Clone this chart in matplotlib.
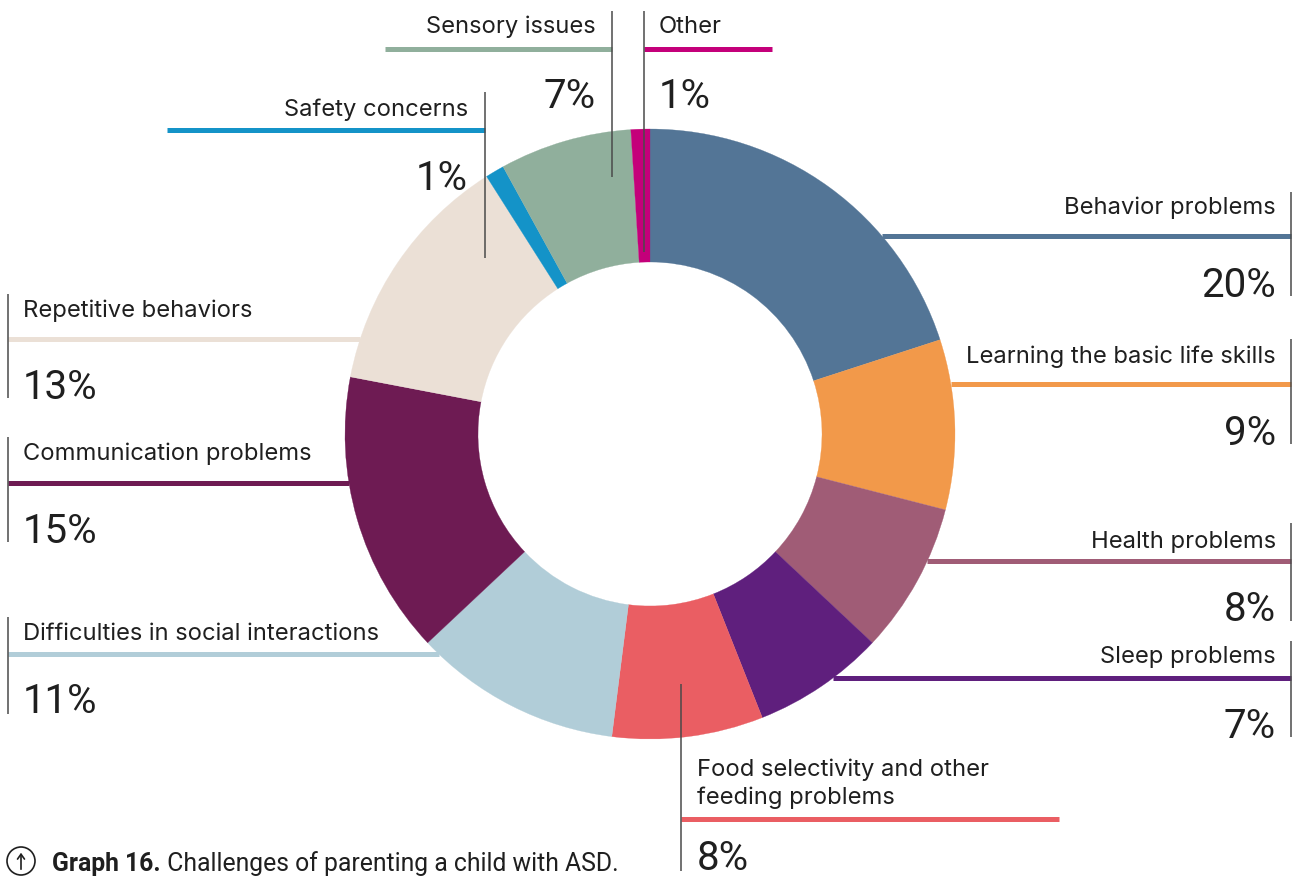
import matplotlib
matplotlib.use("Agg")
import matplotlib.pyplot as plt
from matplotlib.patches import Circle
import numpy as np

# ---------------- data ----------------
categories = [
    "Behavior problems",
    "Learning the basic life skills",
    "Health problems",
    "Sleep problems",
    "Food selectivity and other\nfeeding problems",
    "Difficulties in social interactions",
    "Communication problems",
    "Repetitive behaviors",
    "Safety concerns",
    "Sensory issues",
    "Other",
]
values = [20, 9, 8, 7, 8, 11, 15, 13, 1, 7, 1]
colors = [
    "#537596", "#F2994A", "#A05C76", "#5F1F7D", "#EA5E63",
    "#B1CDD8", "#6E1B53", "#EBE0D6", "#1493C8", "#90AF9C", "#C4007A",
]
caption_bold = "Graph 16."
caption_text = " Challenges of parenting a child with ASD."

# ---------------- layout (pixels) ----------------
W_PX, H_PX = 1298, 878
CX, CY, R, RING = 650, 435, 305, 133

layout = {
    "Behavior problems": dict(ha="right", tx=1276, tb=[214], ly=237, lx=None, vx=1291, vy=(193, 297), px=1276, pb=297),
    "Learning the basic life skills": dict(ha="right", tx=1276, tb=[363], ly=385, lx=None, vx=1291, vy=(340, 445), px=1276, pb=445),
    "Health problems": dict(ha="right", tx=1276, tb=[548], ly=562, lx=None, vx=1291, vy=(524, 622), px=1276, pb=621),
    "Sleep problems": dict(ha="right", tx=1276, tb=[663], ly=679, lx=None, vx=1291, vy=(642, 738), px=1276, pb=738),
    "Food selectivity and other\nfeeding problems": dict(ha="left", tx=697, tb=[776, 804], ly=820, lx=1059, vx=681, vy=(685, 872), px=697, pb=870),
    "Difficulties in social interactions": dict(ha="left", tx=23, tb=[640], ly=655, lx=None, vx=8, vy=(618, 715), px=23, pb=713),
    "Communication problems": dict(ha="left", tx=23, tb=[460], ly=484, lx=None, vx=8, vy=(438, 543), px=23, pb=543),
    "Repetitive behaviors": dict(ha="left", tx=23, tb=[317], ly=340, lx=None, vx=8, vy=(295, 399), px=23, pb=399),
    "Safety concerns": dict(ha="right", tx=468, tb=[116], ly=131, lx=167, vx=485, vy=(93, 259), px=468, pb=190),
    "Sensory issues": dict(ha="right", tx=596, tb=[33], ly=50, lx=385, vx=612, vy=(12, 178), px=596, pb=108),
    "Other": dict(ha="left", tx=659, tb=[33], ly=50, lx=772, vx=644, vy=(12, 253), px=659, pb=108),
}

LABEL_FONT = "Inter"
PCT_FONT = "Roboto"
TXT_COL = "#1f1f1f"
VLINE_COL = "#4a4a4a"

fig = plt.figure(figsize=(W_PX / 100, H_PX / 100), dpi=100)
ax = fig.add_axes([0, 0, 1, 1])

ax.pie(values, colors=colors, center=(CX, CY), radius=R, startangle=-90,
       counterclock=True, wedgeprops=dict(width=RING, linewidth=0.3, edgecolor="white"),
       frame=False)
for w, c in zip(ax.patches, colors):
    w.set_edgecolor(c)
    w.set_linewidth(0.2)
    w.set_zorder(2)

ax.set_xlim(0, W_PX)
ax.set_ylim(H_PX, 0)
ax.set_aspect("equal")
ax.axis("off")

for cat, val, col in zip(categories, values, colors):
    L = layout[cat]
    if L["lx"] is None:
        dy = abs(L["ly"] - CY)
        dx = np.sqrt(max(R ** 2 - dy ** 2, 0))
        edge = CX + dx if L["ha"] == "right" else CX - dx
        x0, x1 = edge, L["vx"]
    else:
        x0, x1 = L["vx"], L["lx"]
    ax.plot([x0, x1], [L["ly"], L["ly"]], color=col, lw=3.6, solid_capstyle="butt", zorder=1)
    ax.plot([L["vx"], L["vx"]], list(L["vy"]), color=VLINE_COL, lw=1.1, solid_capstyle="butt", zorder=4)
    for line, base in zip(cat.split("\n"), L["tb"]):
        ax.text(L["tx"], base, line, ha=L["ha"], va="baseline", fontsize=17.1,
                family=LABEL_FONT, color=TXT_COL, zorder=5)
    ax.text(L["px"], L["pb"], f"{val}%", ha=L["ha"], va="baseline", fontsize=29,
            family=PCT_FONT, fontweight="normal", color=TXT_COL, zorder=5)

# caption with icon
ax.add_patch(Circle((21, 862), 14, fill=False, lw=1.2, edgecolor=TXT_COL, zorder=5))
ax.annotate("", xy=(21, 851), xytext=(21, 873),
            arrowprops=dict(arrowstyle="->,head_width=0.25,head_length=0.35", lw=1.2, color=TXT_COL), zorder=5)
t1 = ax.text(52, 871, caption_bold, ha="left", va="baseline", fontsize=17.8,
             family="Roboto", fontweight="bold", color=TXT_COL)
fig.canvas.draw()
bb = t1.get_window_extent(renderer=fig.canvas.get_renderer())
x_end = ax.transData.inverted().transform((bb.x1, bb.y0))[0]
ax.text(x_end, 871, caption_text, ha="left", va="baseline", fontsize=17.8,
        family="Roboto", color=TXT_COL)

fig.savefig("out.png", dpi=100)
